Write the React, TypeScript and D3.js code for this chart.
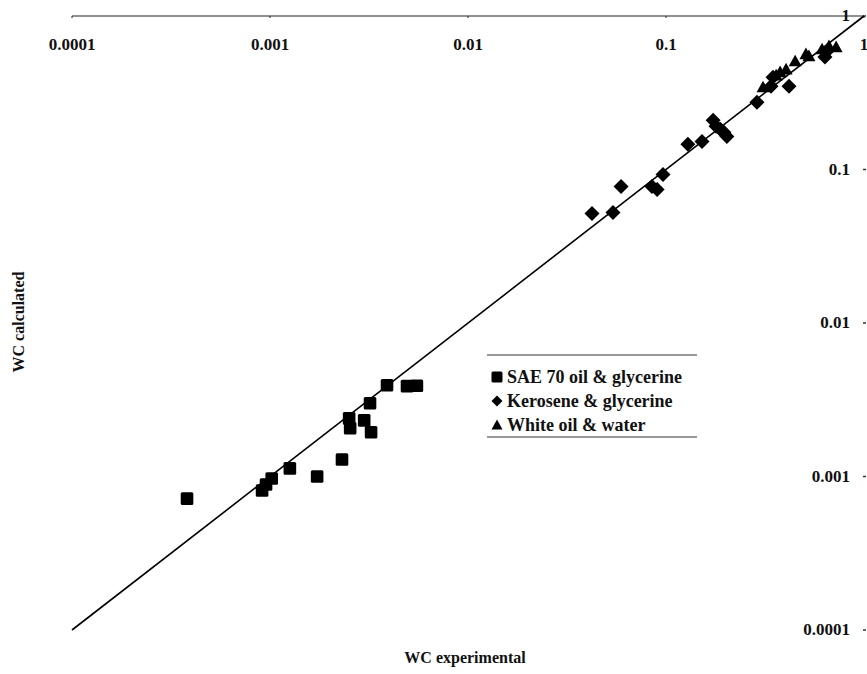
import React from "react";
import * as d3 from "d3";

const tickValues = [0.0001, 0.001, 0.01, 0.1, 1];
const tickLabels = ["0.0001", "0.001", "0.01", "0.1", "1"];

const safX = [3.81e-4, 9.12e-4, 9.55e-4, 1.02e-3, 1.26e-3, 1.73e-3, 2.31e-3, 2.51e-3, 2.54e-3, 2.99e-3, 3.2e-3, 3.24e-3, 3.9e-3, 4.92e-3, 5.52e-3];
const safY = [7.18e-4, 8.1e-4, 8.87e-4, 9.7e-4, 1.13e-3, 1.0e-3, 1.29e-3, 2.39e-3, 2.06e-3, 2.32e-3, 3.0e-3, 1.94e-3, 3.93e-3, 3.88e-3, 3.9e-3];

const keroX = [0.0423, 0.054, 0.0593, 0.0849, 0.0902, 0.0966, 0.129, 0.152, 0.173, 0.179, 0.188, 0.196, 0.203, 0.288, 0.339, 0.418, 0.347, 0.635, 0.65];
const keroY = [0.0516, 0.0524, 0.0774, 0.0774, 0.074, 0.0927, 0.146, 0.152, 0.209, 0.191, 0.183, 0.175, 0.164, 0.274, 0.349, 0.349, 0.399, 0.54, 0.59];

const whiteX = [0.309, 0.36, 0.377, 0.404, 0.449, 0.509, 0.527, 0.614, 0.665, 0.723];
const whiteY = [0.344, 0.411, 0.431, 0.45, 0.508, 0.565, 0.548, 0.608, 0.637, 0.627];

const legendLabels = ["SAE 70 oil & glycerine", "Kerosene & glycerine", "White oil & water"];

const W = 867;
const H = 674;
const FONT = "'Liberation Serif', 'Times New Roman', serif";

export default function App() {
  const x = d3.scaleLog().domain([1e-4, 1]).range([72, 864]);
  const y = d3.scaleLog().domain([1e-4, 1]).range([630, 16]);

  const sq = (cx: number, cy: number, i: number, s = 6.3) => (
    <rect key={"s" + i} x={cx - s} y={cy - s} width={2 * s} height={2 * s} rx={1.5} fill="#000" />
  );
  const di = (cx: number, cy: number, i: number, s = 7.5) => (
    <path key={"d" + i} d={`M${cx},${cy - s}L${cx + s},${cy}L${cx},${cy + s}L${cx - s},${cy}Z`} fill="#000" />
  );
  const tri = (cx: number, cy: number, i: number, s = 6.5) => (
    <path key={"t" + i} d={`M${cx},${cy - s}L${cx + s},${cy + s * 0.8}L${cx - s},${cy + s * 0.8}Z`} fill="#000" />
  );

  const line = d3.line<number>().x((v) => x(v)).y((v) => y(v));

  return (
    <svg width={W} height={H} style={{ position: "absolute", left: 0, top: 0, background: "#fff" }} fontFamily={FONT}>
      <rect x={0} y={0} width={W} height={H} fill="#fff" />
      <line x1={x(1e-4)} x2={x(1)} y1={y(1)} y2={y(1)} stroke="#222" strokeWidth={1.2} />
      {tickValues.map((v, i) => (
        <g key={"xt" + i}>
          <line x1={x(v)} x2={x(v)} y1={y(1)} y2={y(1) + 2} stroke="#222" />
          <text x={x(v)} y={50} textAnchor="middle" fontSize={17} fontWeight="bold" fill="#111">
            {tickLabels[i]}
          </text>
        </g>
      ))}
      {tickValues.map((v, i) => (
        <g key={"yt" + i}>
          <line x1={863} x2={866} y1={y(v)} y2={y(v)} stroke="#333" strokeWidth={1.5} />
          <text x={850} y={y(v) + 5} textAnchor="end" fontSize={17} fontWeight="bold" fill="#111">
            {tickLabels[i]}
          </text>
        </g>
      ))}
      <path d={line([1e-4, 1]) || ""} stroke="#000" strokeWidth={1.6} fill="none" />
      {safX.map((v, i) => sq(x(v), y(safY[i]), i))}
      {keroX.map((v, i) => di(x(v), y(keroY[i]), i))}
      {whiteX.map((v, i) => tri(x(v), y(whiteY[i]), i))}
      <line x1={487} x2={697} y1={355} y2={355} stroke="#333" strokeWidth={1} />
      <line x1={487} x2={697} y1={437} y2={437} stroke="#333" strokeWidth={1} />
      {legendLabels.map((lab, i) => {
        const cy = 377 + i * 24;
        const mk = i === 0 ? sq(497, cy, 100, 5.5) : i === 1 ? di(497, cy, 100, 5.5) : tri(497, cy, 100, 5.5);
        return (
          <g key={"lg" + i}>
            {mk}
            <text x={507} y={cy + 6} fontSize={18} fontWeight="bold" fill="#111">
              {lab}
            </text>
          </g>
        );
      })}
      <text x={465} y={663} textAnchor="middle" fontSize={16} fontWeight="bold" fill="#111">
        WC experimental
      </text>
      <text transform={`translate(24,322) rotate(-90)`} textAnchor="middle" fontSize={16} fontWeight="bold" fill="#111">
        WC calculated
      </text>
    </svg>
  );
}
